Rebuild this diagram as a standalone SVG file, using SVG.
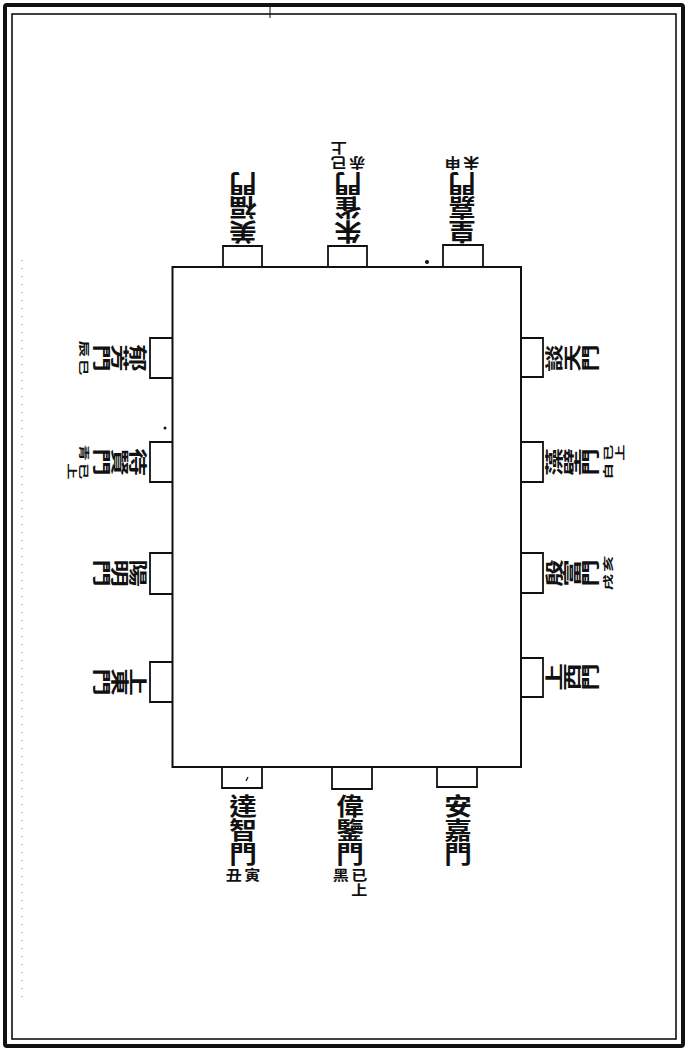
<svg xmlns="http://www.w3.org/2000/svg" width="688" height="1051" viewBox="0 0 688 1051">
<style>
.bd{fill:none;stroke:#111}
.ln{fill:none;stroke:#111;stroke-width:2}
.gt{fill:none;stroke:#111;stroke-width:1.8}
.m{font-family:"Noto Sans CJK TC","Noto Sans CJK JP",sans-serif;font-size:24px;font-weight:700;fill:#111;text-anchor:middle}
.s{font-family:"Noto Sans CJK TC","Noto Sans CJK JP",sans-serif;font-size:14px;font-weight:700;fill:#111;text-anchor:middle}
</style>
<rect width="688" height="1051" fill="#fff"/>
<g id="frame">
<rect class="bd" x="5" y="5" width="678" height="1041" stroke-width="4" rx="2"/>
<rect class="bd" x="12" y="14" width="664" height="1025" stroke-width="1.6"/>
<line x1="270" y1="3" x2="270" y2="18" stroke="#111" stroke-width="1"/>
<line x1="22" y1="260" x2="22" y2="1000" stroke="#777" stroke-width="1" stroke-dasharray="1 7"/>
</g>
<g id="wall">
<rect class="ln" x="172.5" y="267" width="348.5" height="500"/>
</g>
<g id="connectors"></g>

<!-- top (south) gates, text rotated 180 -->
<g id="gate-bifuku">
<path class="gt" d="M223,267 V246 H262 V267"/>
<g transform="translate(243,244) rotate(180)"><g transform="scale(1.15,1)">
<text class="m"><tspan x="0" y="21">美</tspan><tspan x="0" y="45">福</tspan><tspan x="0" y="69">門</tspan></text>
</g></g>
</g>
<g id="gate-suzaku">
<path class="gt" d="M328,267 V246 H367 V267"/>
<g transform="translate(348,244) rotate(180)"><g transform="scale(1.15,1)">
<text class="m"><tspan x="0" y="21">朱</tspan><tspan x="0" y="45">雀</tspan><tspan x="0" y="69">門</tspan></text>
<text class="s"><tspan x="8" y="86">已</tspan><tspan x="8" y="101">上</tspan></text>
<text class="s"><tspan x="-8" y="86">赤</tspan></text>
</g></g>
</g>
<g id="gate-kouka">
<path class="gt" d="M443,267 V245 H483 V267"/>
<circle cx="427" cy="262" r="2" fill="#111"/>
<g transform="translate(462,244) rotate(180)"><g transform="scale(1.15,1)">
<text class="m"><tspan x="0" y="21">皇</tspan><tspan x="0" y="45">嘉</tspan><tspan x="0" y="69">門</tspan></text>
<text class="s"><tspan x="8" y="86">申</tspan></text>
<text class="s"><tspan x="-8" y="86">未</tspan></text>
</g></g>
</g>

<!-- bottom (north) gates -->
<g id="gate-tacchi">
<path class="gt" d="M222,767 V788 H262 V767"/>
<path d="M246,781 l2,-4" stroke="#111" stroke-width="1.2"/>
<g transform="translate(243,794)"><g transform="scale(1.15,1)">
<text class="m"><tspan x="0" y="21">達</tspan><tspan x="0" y="45">智</tspan><tspan x="0" y="69">門</tspan></text>
<text class="s"><tspan x="8" y="86">寅</tspan></text>
<text class="s"><tspan x="-8" y="86">丑</tspan></text>
</g></g>
</g>
<g id="gate-ikan">
<path class="gt" d="M332,767 V789 H372 V767"/>
<g transform="translate(350,794)"><g transform="scale(1.15,1)">
<text class="m"><tspan x="0" y="21">偉</tspan><tspan x="0" y="45">鑒</tspan><tspan x="0" y="69">門</tspan></text>
<text class="s"><tspan x="8" y="86">已</tspan><tspan x="8" y="101">上</tspan></text>
<text class="s"><tspan x="-8" y="86">黑</tspan></text>
</g></g>
</g>
<g id="gate-anka">
<path class="gt" d="M437,767 V787 H477 V767"/>
<g transform="translate(458,794)"><g transform="scale(1.15,1)">
<text class="m"><tspan x="0" y="21">安</tspan><tspan x="0" y="45">嘉</tspan><tspan x="0" y="69">門</tspan></text>
</g></g>
</g>

<!-- left (east) gates, text rotated 90 -->
<g id="gate-ikuhou">
<path class="gt" d="M172.5,338 H150 V378 H172.5"/>
<g transform="translate(147,358) rotate(90)"><g transform="scale(1.15,0.76)">
<text class="m"><tspan x="0" y="21">郁</tspan><tspan x="0" y="45">芳</tspan><tspan x="0" y="69">門</tspan></text>
<text class="s"><tspan x="8" y="88">巳</tspan></text>
<text class="s"><tspan x="-8" y="88">辰</tspan></text>
</g></g>
</g>
<g id="gate-taiken">
<path class="gt" d="M172.5,442 H150 V482 H172.5"/>
<circle cx="165" cy="428" r="1.5" fill="#111"/>
<g transform="translate(147,462) rotate(90)"><g transform="scale(1.15,0.76)">
<text class="m"><tspan x="0" y="21">待</tspan><tspan x="0" y="45">賢</tspan><tspan x="0" y="69">門</tspan></text>
<text class="s"><tspan x="8" y="88">已</tspan><tspan x="8" y="104">上</tspan></text>
<text class="s"><tspan x="-8" y="88">青</tspan></text>
</g></g>
</g>
<g id="gate-youmei">
<path class="gt" d="M172.5,553 H150 V594 H172.5"/>
<g transform="translate(147,573) rotate(90)"><g transform="scale(1.15,0.76)">
<text class="m"><tspan x="0" y="21">陽</tspan><tspan x="0" y="45">明</tspan><tspan x="0" y="69">門</tspan></text>
</g></g>
</g>
<g id="gate-joutou">
<path class="gt" d="M172.5,662 H150 V702 H172.5"/>
<g transform="translate(147,682) rotate(90)"><g transform="scale(1.15,0.76)">
<text class="m"><tspan x="0" y="21">上</tspan><tspan x="0" y="45">東</tspan><tspan x="0" y="69">門</tspan></text>
</g></g>
</g>

<!-- right (west) gates, text rotated -90 -->
<g id="gate-danten">
<path class="gt" d="M521,338 H543 V377 H521"/>
<g transform="translate(545,358) rotate(-90)"><g transform="scale(1.15,0.76)">
<text class="m"><tspan x="0" y="21">談</tspan><tspan x="0" y="45">天</tspan><tspan x="0" y="69">門</tspan></text>
</g></g>
</g>
<g id="gate-souheki">
<path class="gt" d="M521,442 H543 V482 H521"/>
<g transform="translate(545,462) rotate(-90)"><g transform="scale(1.15,0.76)">
<text class="m"><tspan x="0" y="21">藻</tspan><tspan x="0" y="45">壁</tspan><tspan x="0" y="69">門</tspan></text>
<text class="s"><tspan x="8" y="88">已</tspan><tspan x="8" y="104">上</tspan></text>
<text class="s"><tspan x="-8" y="88">白</tspan></text>
</g></g>
</g>
<g id="gate-inpu">
<path class="gt" d="M521,553 H543 V593 H521"/>
<g transform="translate(545,573) rotate(-90)"><g transform="scale(1.15,0.76)">
<text class="m"><tspan x="0" y="21">殷</tspan><tspan x="0" y="45">富</tspan><tspan x="0" y="69">門</tspan></text>
<text class="s"><tspan x="8" y="88">亥</tspan></text>
<text class="s"><tspan x="-8" y="88">戌</tspan></text>
</g></g>
</g>
<g id="gate-jousai">
<path class="gt" d="M521,658 H543 V697 H521"/>
<g transform="translate(545,677) rotate(-90)"><g transform="scale(1.15,0.76)">
<text class="m"><tspan x="0" y="21">上</tspan><tspan x="0" y="45">西</tspan><tspan x="0" y="69">門</tspan></text>
</g></g>
</g>
</svg>
